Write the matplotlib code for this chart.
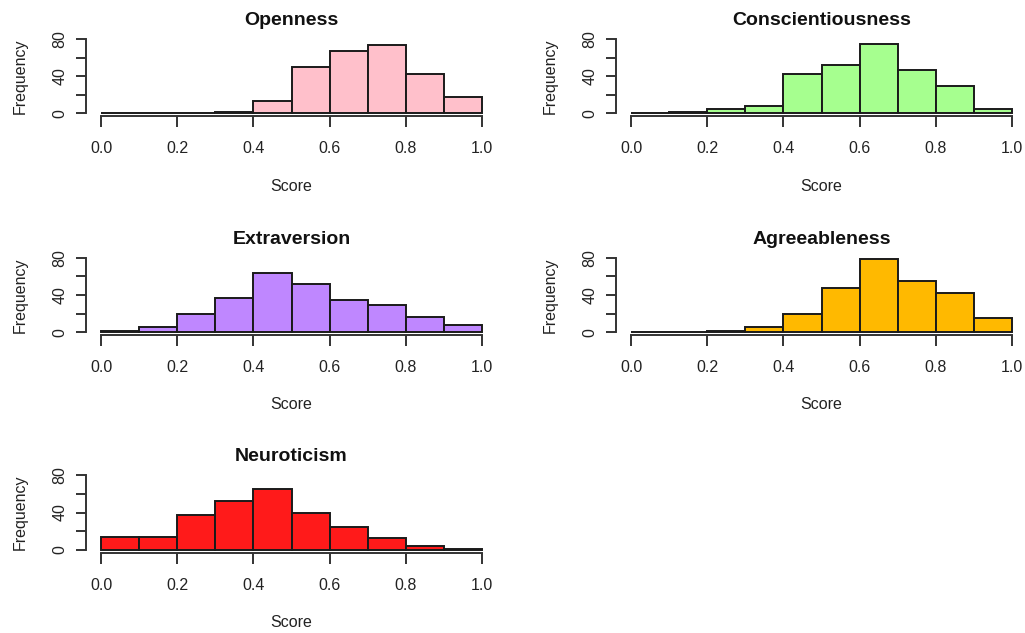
import matplotlib
matplotlib.use("Agg")
import matplotlib.pyplot as plt
import numpy as np

plt.rcParams['font.family'] = ['Liberation Sans', 'DejaVu Sans']

bin_edges = [0.0, 0.1, 0.2, 0.3, 0.4, 0.5, 0.6, 0.7, 0.8, 0.9, 1.0]
traits = ["Openness", "Conscientiousness", "Extraversion", "Agreeableness", "Neuroticism"]
openness = [0, 0, 0, 1, 13, 50, 67, 73, 42, 18]
conscientiousness = [0, 1, 5, 8, 42, 52, 75, 47, 29, 5]
extraversion = [1, 5, 19, 37, 64, 52, 34, 29, 16, 8]
agreeableness = [0, 0, 1, 6, 20, 47, 79, 55, 42, 15]
neuroticism = [14, 14, 37, 52, 65, 39, 24, 13, 4, 1]
counts = [openness, conscientiousness, extraversion, agreeableness, neuroticism]
colors = ["#FFC0CB", "#A6FF8F", "#BF87FF", "#FFB900", "#FF1A1A"]
x_ticks = [0.0, 0.2, 0.4, 0.6, 0.8, 1.0]
x_ticklabels = ["0.0", "0.2", "0.4", "0.6", "0.8", "1.0"]
y_ticks = [0, 20, 40, 60, 80]
y_ticklabels = ["0", "", "40", "", "80"]

W, H = 1025, 633
fig = plt.figure(figsize=(W / 100, H / 100), dpi=100)

col_left = [85.8, 615.8]
row_top = [36.0, 254.7, 472.3]
ax_w = 411.4
ax_h = 80.4

for i, (name, c, col) in enumerate(zip(traits, counts, colors)):
    r, cc = divmod(i, 2)
    left = col_left[cc] / W
    bottom = 1 - (row_top[r] + ax_h) / H
    ax = fig.add_axes([left, bottom, ax_w / W, ax_h / H])
    edges = np.array(bin_edges)
    widths = np.diff(edges)
    ax.bar(edges[:-1], c, width=widths, align='edge', color=col,
           edgecolor='#1a1a1a', linewidth=1.4)
    ax.set_xlim(-0.04, 1.04)
    ax.set_ylim(-3.2, 83.2)
    for s in ['top', 'right']:
        ax.spines[s].set_visible(False)
    ax.spines['left'].set_bounds(0, 80)
    ax.spines['bottom'].set_bounds(0, 1)
    for s in ['left', 'bottom']:
        ax.spines[s].set_linewidth(1.4)
        ax.spines[s].set_color('#333333')
    ax.set_xticks(x_ticks)
    ax.set_xticklabels(x_ticklabels, fontsize=11.5, color='#222222')
    ax.set_yticks(y_ticks)
    ax.set_yticklabels(y_ticklabels, fontsize=11.5, rotation=90, va='center',
                       color='#222222')
    ax.tick_params(axis='x', length=8, width=1.4, color='#333333', pad=10)
    ax.tick_params(axis='y', length=7, width=1.4, color='#333333', pad=6)
    ax.set_title(name, fontsize=14, fontweight='bold', pad=8, color='#111111')
    ax.set_xlabel("Score", fontsize=11.5, labelpad=16, color='#222222')
    ax.set_ylabel("Frequency", fontsize=11.5, labelpad=18, color='#222222')

fig.savefig("out.png", dpi=100, facecolor='white')
